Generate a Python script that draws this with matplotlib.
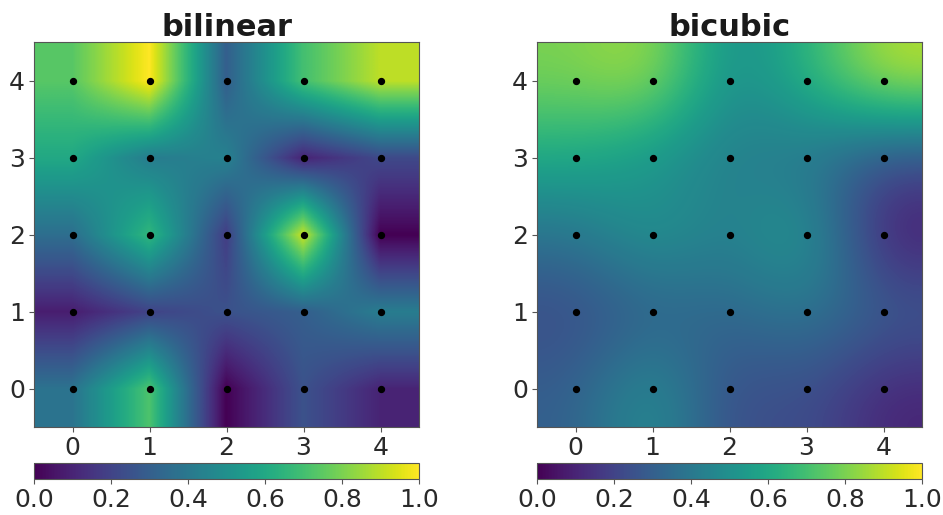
import matplotlib
matplotlib.use("Agg")
import matplotlib.pyplot as plt
import numpy as np

titles = ["bilinear", "bicubic"]
ticks = [0, 1, 2, 3, 4]
cbar_ticks = [0.0, 0.2, 0.4, 0.6, 0.8, 1.0]

# Rows run from y=0 (bottom) to y=4 (top)
bilinear_row0 = [0.38, 0.72, 0.00, 0.25, 0.10]
bilinear_row1 = [0.08, 0.20, 0.25, 0.30, 0.42]
bilinear_row2 = [0.36, 0.66, 0.18, 0.92, 0.00]
bilinear_row3 = [0.60, 0.42, 0.44, 0.10, 0.22]
bilinear_row4 = [0.74, 1.00, 0.30, 0.70, 0.90]

bicubic_row0 = [0.30, 0.52, 0.22, 0.25, 0.10]
bicubic_row1 = [0.22, 0.30, 0.33, 0.40, 0.30]
bicubic_row2 = [0.38, 0.54, 0.42, 0.58, 0.06]
bicubic_row3 = [0.60, 0.50, 0.42, 0.38, 0.22]
bicubic_row4 = [0.80, 0.88, 0.46, 0.64, 0.90]

grids = [
    np.array([bilinear_row0, bilinear_row1, bilinear_row2, bilinear_row3, bilinear_row4]),
    np.array([bicubic_row0, bicubic_row1, bicubic_row2, bicubic_row3, bicubic_row4]),
]

plt.rcParams["text.color"] = "#1a1a1a"
plt.rcParams["xtick.labelcolor"] = "#2a2a2a"
plt.rcParams["ytick.labelcolor"] = "#2a2a2a"

W, H = 943, 515
fig = plt.figure(figsize=(W / 100, H / 100), dpi=100)
lefts = [34, 537]
for left, title, grid in zip(lefts, titles, grids):
    ax = fig.add_axes([left / W, 1 - 427 / H, 385 / W, 385 / H])
    im = ax.imshow(grid, origin="lower", cmap="viridis", vmin=0, vmax=1,
                   interpolation=title)
    xx, yy = np.meshgrid(ticks, ticks)
    ax.scatter(xx.ravel(), yy.ravel(), s=18, c="black", zorder=3)
    ax.set_xticks(ticks)
    ax.set_yticks(ticks)
    ax.tick_params(labelsize=18, color="#555555", width=0.8, pad=3)
    ax.set_xlim(-0.5, 4.5)
    ax.set_ylim(-0.5, 4.5)
    for s in ax.spines.values():
        s.set_color("#555555")
    ax.set_title(title, fontsize=22, fontweight="bold", pad=3.5)
    cax = fig.add_axes([left / W, 1 - 479 / H, 385 / W, 16 / H])
    cb = fig.colorbar(im, cax=cax, orientation="horizontal")
    cb.set_ticks(cbar_ticks)
    cb.ax.tick_params(labelsize=18, color="#555555", pad=3)
    cb.outline.set_edgecolor("#555555")

fig.savefig("out.png", dpi=100)
